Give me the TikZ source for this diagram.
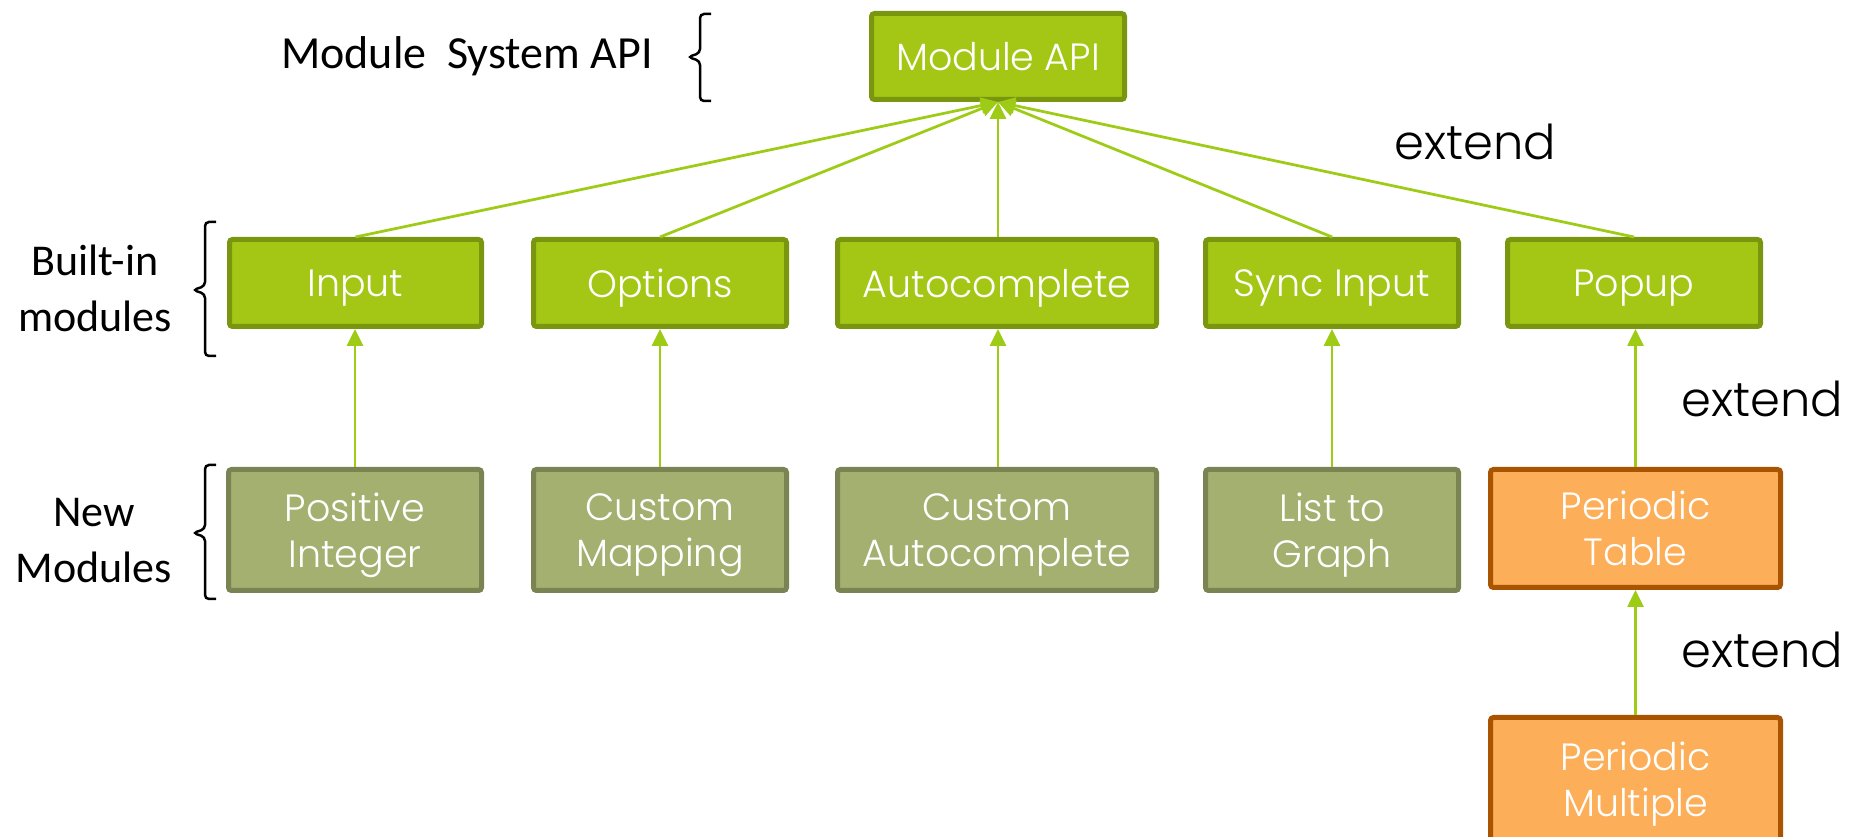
\documentclass[tikz,border=0pt]{standalone}
\usepackage{fontspec}
\setmainfont{Poppins Light}
\newfontfamily\labelfont{Carlito}
\usetikzlibrary{arrows.meta}

\definecolor{bifill}{HTML}{A4C716}
\definecolor{biline}{HTML}{7A960E}
\definecolor{nmfill}{HTML}{A4B070}
\definecolor{nmline}{HTML}{7A8452}
\definecolor{pefill}{HTML}{FCAE58}
\definecolor{peline}{HTML}{A85400}
\definecolor{conncol}{HTML}{9DCB16}

\tikzset{
  modbox/.style={rectangle, rounded corners=1.2pt, line width=2pt, text=white,
    font=\fontsize{15.2}{18.4}\selectfont, align=center, inner sep=0pt, text depth=0pt},
  boxsize/.style 2 args={minimum width={(#1)*0.4pt-2pt}, minimum height={(#2)*0.4pt-2pt}},
  builtin/.style={modbox, fill=bifill, draw=biline},
  newmod/.style={modbox, fill=nmfill, draw=nmline},
  periodic/.style={modbox, fill=pefill, draw=peline},
  conn/.style={draw=conncol, line width=1.1pt, -{Triangle[width=6.4pt,length=6.8pt]}},
  grouplabel/.style={font=\labelfont\fontsize{17.6}{22.4}\selectfont, align=center, inner sep=0pt},
  extlabel/.style={font=\fontsize{19.2}{23}\selectfont, inner sep=0pt, anchor=base},
  bracket/.style={draw=black, line width=1pt, rounded corners=1.6pt}
}

\begin{document}
\begin{tikzpicture}[x=0.4pt, y=-0.4pt]
\useasboundingbox (0,0) rectangle (1859,837);

% top level
\node[builtin, boxsize={258}{91}] (api) at (998,56.5) {Module API};

% built-in modules
\node[builtin, boxsize={257}{92}] (input) at (355.5,283) {Input};
\node[builtin, boxsize={258}{92}] (options) at (660,283) {Options};
\node[builtin, boxsize={324}{92}] (autoc) at (997,283) {Autocomplete};
\node[builtin, boxsize={258}{92}] (sync) at (1332,283) {Sync Input};
\node[builtin, boxsize={258}{92}] (popup) at (1634,283) {Popup};

% new modules
\node[newmod, boxsize={258}{126}] (posint) at (355,530) {Positive\\Integer};
\node[newmod, boxsize={258}{126}] (cmap) at (660,530) {Custom\\Mapping};
\node[newmod, boxsize={324}{126}] (cauto) at (997,530) {Custom\\Autocomplete};
\node[newmod, boxsize={258}{126}] (lgraph) at (1332,530) {List to\\Graph};
\node[periodic, boxsize={295}{123}] (ptable) at (1635.5,528.5) {Periodic\\Table};
\node[periodic, boxsize={295}{128}] (pmult) at (1635.5,779) {Periodic\\Multiple};

% connectors into the module API
\draw[conn] (input.north) -- (api.south);
\draw[conn] (options.north) -- (api.south);
\draw[conn] (api.south |- autoc.north) -- (api.south);
\draw[conn] (sync.north) -- (api.south);
\draw[conn] (popup.north) -- (api.south);

% new modules extend the built-in ones
\draw[conn] (posint.north) -- (posint.north |- input.south);
\draw[conn] (cmap.north) -- (cmap.north |- options.south);
\draw[conn] (api.south |- cauto.north) -- (api.south |- autoc.south);
\draw[conn] (lgraph.north) -- (lgraph.north |- sync.south);
\draw[conn] (ptable.north) -- (ptable.north |- popup.south);
\draw[conn] (pmult.north) -- (ptable.south);

% "extend" labels
\node[extlabel] (ext1) at (1475,160) {extend};
\node[extlabel] (ext2) at (1762,417) {extend};
\node[extlabel] (ext3) at (1762,667) {extend};

% group labels with brackets
\node[grouplabel, font=\labelfont\fontsize{18.4}{22}\selectfont, anchor=base] (sysapi) at (467,69) {Module\ \ System API};
\node[grouplabel] (builtinlbl) at (95,288) {Built-in\\modules};
\node[grouplabel] (newlbl) at (94,541) {New\\Modules};

\draw[bracket] (711,14) -- (700,14) -- (700,53) -- (688,57) -- (700,61) -- (700,101) -- (711,101);
\draw[bracket] (216,222) -- (205,222) -- (205,286) -- (193,290) -- (205,294) -- (205,356) -- (216,356);
\draw[bracket] (216,465) -- (205,465) -- (205,529) -- (193,533) -- (205,537) -- (205,599) -- (216,599);
\end{tikzpicture}
\end{document}
